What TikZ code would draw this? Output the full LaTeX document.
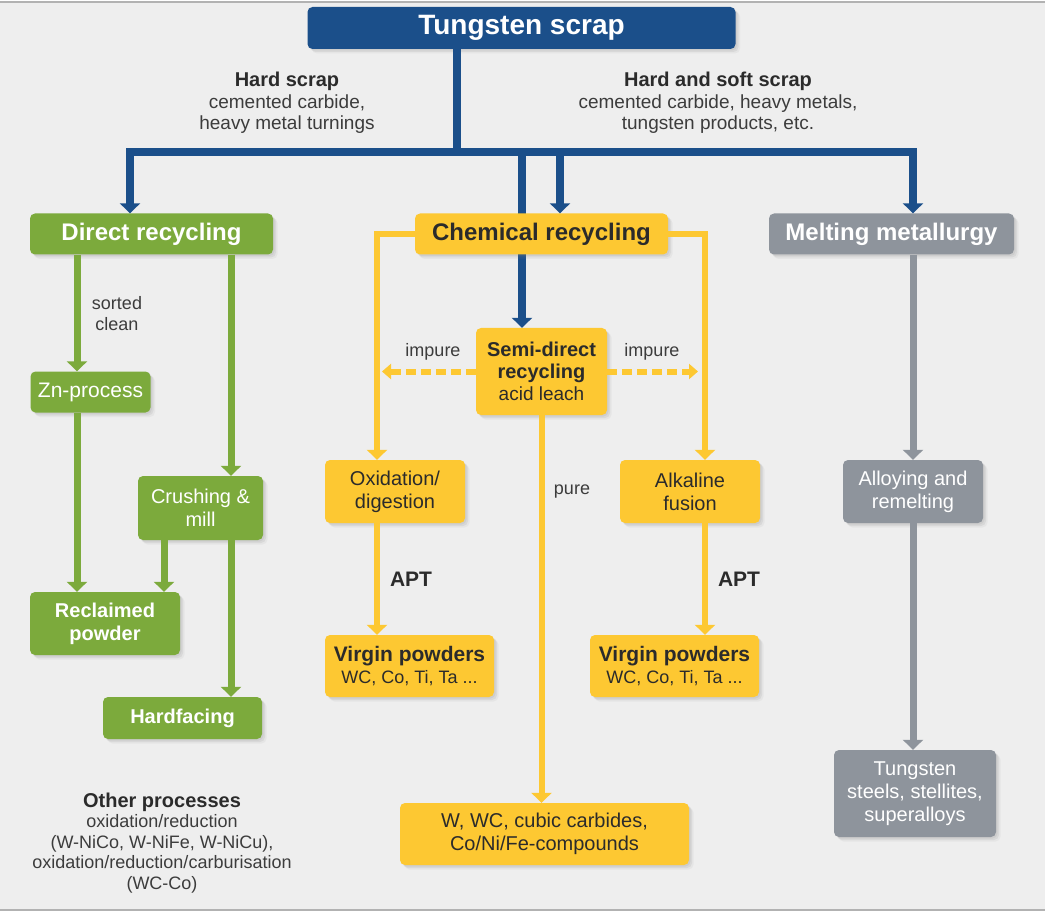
\documentclass[tikz,border=0pt]{standalone}
\usepackage{fontspec}
\setmainfont{Liberation Sans}
\usetikzlibrary{arrows.meta,shadows,backgrounds,calc}

\definecolor{wblue}{HTML}{1B4F8A}
\definecolor{wgreen}{HTML}{7CAA3C}
\definecolor{wyellow}{HTML}{FDC832}
\definecolor{wgray}{HTML}{8E949C}
\definecolor{bgcol}{HTML}{EEEEEE}
\definecolor{darktxt}{HTML}{2B2B2B}
\definecolor{labeltxt}{HTML}{3C3C3C}

\tikzset{
  softshadow/.style={
    drop shadow={shadow xshift=1.5pt, shadow yshift=-1.5pt, opacity=0.12},
    drop shadow={shadow xshift=3pt, shadow yshift=-3pt, opacity=0.12},
    drop shadow={shadow xshift=4.5pt, shadow yshift=-4.5pt, opacity=0.08}},
  box/.style={rounded corners=5pt, inner sep=0pt, align=center, softshadow},
  bluebox/.style={box, fill=wblue, text=white},
  greenbox/.style={box, fill=wgreen, text=white},
  yellowbox/.style={box, fill=wyellow, text=darktxt},
  graybox/.style={box, fill=wgray, text=white},
  bline/.style={draw=wblue, line width=8pt},
  gline/.style={draw=wgreen, line width=7pt},
  yline/.style={draw=wyellow, line width=6pt},
  kline/.style={draw=wgray, line width=7pt},
  arr/.style={-{Triangle[width=20pt,length=10pt]}},
  darr/.style={-{Triangle[width=15pt,length=9pt]}},
  lbl/.style={align=center, text=labeltxt, inner sep=0pt},
  head/.style={font=\fontsize{24}{28}\selectfont\bfseries},
  body/.style={font=\fontsize{20}{23}\selectfont},
}

\begin{document}
\begin{tikzpicture}[x=1pt, y=-1pt]
\useasboundingbox (0,0) rectangle (1045,912);

% page background
\begin{scope}[on background layer]
  \fill[white] (0,0) rectangle (1045,912);
  \fill[bgcol] (0,2) rectangle (1045,910);
  \draw[gray!60, line width=1.5pt] (0,2) -- (1045,2);
  \draw[gray!60, line width=1.5pt] (0,910) -- (1045,910);
\end{scope}

% ---------- boxes ----------
\node[bluebox, minimum width=428pt, minimum height=42pt,
      font=\fontsize{28}{32}\selectfont\bfseries] (scrap) at (521.5,28) {Tungsten scrap};

\node[greenbox, head, minimum width=243pt, minimum height=41pt] (direct) at (151.5,234) {Direct recycling};
\node[yellowbox, head, minimum width=253pt, minimum height=41pt] (chem) at (541.5,234) {Chemical recycling};
\node[graybox, head, minimum width=245pt, minimum height=41pt] (melt) at (891.5,234) {Melting metallurgy};

% direct recycling branch
\node[greenbox, minimum width=120pt, minimum height=41pt,
      font=\fontsize{21}{24}\selectfont] (zn) at (90.5,392) {Zn-process};
\node[greenbox, body, minimum width=125pt, minimum height=64pt] (crush) at (200.5,508) {Crushing \&\\mill};
\node[greenbox, minimum width=150pt, minimum height=63pt,
      font=\fontsize{20}{23}\selectfont\bfseries] (recl) at (105,623.5) {Reclaimed\\powder};
\node[greenbox, minimum width=159pt, minimum height=42pt,
      font=\fontsize{20}{23}\selectfont\bfseries] (hard) at (182.5,718) {Hardfacing};

% chemical recycling branch
\node[yellowbox, minimum width=131pt, minimum height=87pt,
      font=\fontsize{20}{22}\selectfont] (semi) at (541.5,371.5)
  {\textbf{Semi-direct}\\\textbf{recycling}\\{\fontsize{19}{22}\selectfont acid leach}};
\node[yellowbox, body, minimum width=140pt, minimum height=63pt] (oxid) at (395,491.5) {Oxidation/\\digestion};
\node[yellowbox, body, minimum width=140pt, minimum height=63pt] (alk) at (690,491.5) {Alkaline\\fusion};
\node[yellowbox, minimum width=169pt, minimum height=62pt,
      font=\fontsize{18}{22}\selectfont] (vpa) at (409.5,666)
  {{\fontsize{21}{23}\selectfont\bfseries Virgin powders}\\WC, Co, Ti, Ta ...};
\node[yellowbox, minimum width=169pt, minimum height=62pt,
      font=\fontsize{18}{22}\selectfont] (vpb) at (674.5,666)
  {{\fontsize{21}{23}\selectfont\bfseries Virgin powders}\\WC, Co, Ti, Ta ...};
\node[yellowbox, body, minimum width=289pt, minimum height=62pt] (wwc) at (544.5,834)
  {W, WC, cubic carbides,\\Co/Ni/Fe-compounds};

% melting metallurgy branch
\node[graybox, body, minimum width=140pt, minimum height=63pt] (alloy) at (913,491.5) {Alloying and\\remelting};
\node[graybox, body, minimum width=162pt, minimum height=87pt] (steel) at (915,793.5) {Tungsten\\steels, stellites,\\superalloys};

% ---------- labels ----------
\node[lbl, font=\fontsize{19}{21.5}\selectfont] (lhard) at (287,103)
  {{\fontsize{20}{22}\selectfont\bfseries\color{darktxt}Hard scrap}\\cemented carbide,\\heavy metal turnings};
\node[lbl, font=\fontsize{19}{21.5}\selectfont] (lsoft) at (718,103)
  {{\fontsize{20}{22}\selectfont\bfseries\color{darktxt}Hard and soft scrap}\\cemented carbide, heavy metals,\\tungsten products, etc.};
\node[lbl, font=\fontsize{18}{21}\selectfont] (lsort) at (117,314) {sorted\\clean};
\node[lbl, font=\fontsize{18}{21}\selectfont] (limpa) at (433,352) {impure};
\node[lbl, font=\fontsize{18}{21}\selectfont] (limpb) at (652,352) {impure};
\node[lbl, font=\fontsize{18}{21}\selectfont] (lpure) at (572,492) {pure};
\node[lbl, font=\fontsize{21}{24}\selectfont\bfseries, text=darktxt] (lapta) at (411,579) {APT};
\node[lbl, font=\fontsize{21}{24}\selectfont\bfseries, text=darktxt] (laptb) at (739,579) {APT};
\node[lbl, font=\fontsize{18}{20.5}\selectfont] (lother) at (162,843)
  {{\fontsize{20}{21}\selectfont\bfseries\color{darktxt}Other processes}\\oxidation/reduction\\(W-NiCo, W-NiFe, W-NiCu),\\oxidation/reduction/carburisation\\(WC-Co)};

% ---------- connectors ----------
\coordinate (hub) at (457,152);
\coordinate (hubchem) at (522,152);
\coordinate (hubsemi) at (560,152);

% blue distribution from the scrap box
\draw[bline] ([xshift=-64.5pt]scrap.south) -- (hub);
\draw[bline, arr] (hub) -| ([xshift=-21.5pt]direct.north);
\draw[bline, arr] (hub) -| ([xshift=21.5pt]melt.north);
\draw[bline, arr] (hubsemi) -- ([xshift=18.5pt]chem.north);
\begin{scope}[on background layer]
  \draw[bline, arr] (hubchem) -- ([xshift=-19.5pt]semi.north);
\end{scope}

% direct recycling
\draw[gline, arr] ([xshift=-74.5pt]direct.south) -- ([xshift=-13.5pt]zn.north);
\draw[gline, arr] ([xshift=-13.5pt]zn.south) -- ([xshift=-28pt]recl.north);
\draw[gline, arr] ([xshift=79.5pt]direct.south) -- ([xshift=30.5pt]crush.north);
\draw[gline, arr] ([xshift=-36.5pt]crush.south) -- ([xshift=59pt]recl.north);
\draw[gline, arr] ([xshift=30.5pt]crush.south) -- ([xshift=48.5pt]hard.north);

% chemical recycling
\draw[yline, arr] (chem.west) -| ([xshift=-18pt]oxid.north);
\draw[yline, arr] (chem.east) -| ([xshift=15pt]alk.north);
\draw[yline, darr, dash pattern=on 10pt off 5pt] (semi.west) -- ($(semi.west -| oxid.north)+(-13,0)$);
\draw[yline, darr, dash pattern=on 10pt off 5pt] (semi.east) -- ($(semi.east -| alk.north)+(8,0)$);
\draw[yline, arr] ([xshift=-18pt]oxid.south) -- ([xshift=-32.5pt]vpa.north);
\draw[yline, arr] ([xshift=15pt]alk.south) -- ([xshift=30.5pt]vpb.north);
\draw[yline, arr] (semi.south) -- (semi.south |- wwc.north);

% melting metallurgy
\draw[kline, arr] ([xshift=21.5pt]melt.south) -- (alloy.north);
\draw[kline, arr] (alloy.south) -- (alloy.south |- steel.north);

\end{tikzpicture}
\end{document}
